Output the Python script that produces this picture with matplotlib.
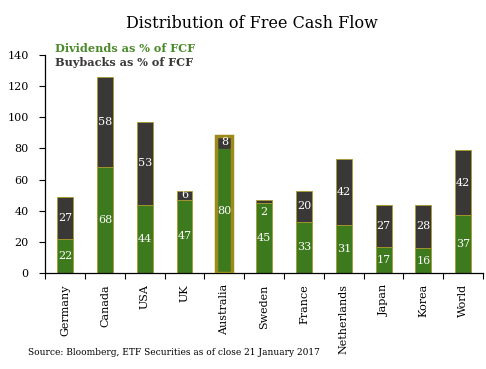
import matplotlib
matplotlib.use("Agg")
import matplotlib.pyplot as plt
import numpy as np

countries = ["Germany", "Canada", "USA", "UK", "Australia", "Sweden", "France",
             "Netherlands", "Japan", "Korea", "World"]
dividends = [22, 68, 44, 47, 80, 45, 33, 31, 17, 16, 37]
buybacks = [27, 58, 53, 6, 8, 2, 20, 42, 27, 28, 42]
yticks = [0, 20, 40, 60, 80, 100, 120, 140]

GREEN = "#3d7a1e"
DARK = "#3a3836"
EDGE = "#a89a2a"
HILITE = "#9c8a1a"

plt.rcParams['font.family'] = ['DejaVu Serif']

fig = plt.figure(figsize=(4.86, 3.69), dpi=100)
ax = fig.add_axes([0.093, 0.26, 0.901, 0.591])

x = np.arange(len(countries))
w = 0.4
for i in range(len(countries)):
    hl = countries[i] == "Australia"
    ax.bar(x[i], dividends[i], width=w, color=GREEN, edgecolor=EDGE, linewidth=0.6, zorder=2)
    ax.bar(x[i], buybacks[i], width=w, bottom=dividends[i], color=DARK, edgecolor=EDGE if not hl else DARK,
           linewidth=0.6, zorder=2)
    if hl:
        tot = dividends[i] + buybacks[i]
        ax.bar(x[i], tot, width=w, fill=False, edgecolor=HILITE, linewidth=2.5, zorder=3)
    ax.text(x[i], dividends[i] / 2, str(dividends[i]), color="white", ha="center", va="center",
            fontsize=8, zorder=4)
    if buybacks[i] >= 5:
        ypos = dividends[i] + buybacks[i] / 2
    else:
        ypos = dividends[i] - 6
    ax.text(x[i], ypos, str(buybacks[i]), color="white", ha="center",
            va="center", fontsize=8, zorder=4)

ax.set_xlim(-0.5, len(countries) - 0.5)
ax.set_ylim(0, 140)
ax.set_yticks(yticks)
ax.tick_params(axis='y', labelsize=8, length=4, width=0.8, direction='out', pad=8)
ax.set_xticks(np.arange(len(countries) + 1) - 0.5)
ax.set_xticklabels([])
ax.set_xticks(x, minor=True)
ax.set_xticklabels(countries, minor=True, rotation=90, fontsize=8)
ax.tick_params(axis='x', which='major', length=4, width=0.8, direction='out')
ax.tick_params(axis='x', which='minor', length=0, pad=8)
for s in ["top", "right"]:
    ax.spines[s].set_visible(False)
for s in ["left", "bottom"]:
    ax.spines[s].set_linewidth(0.9)

fig.text(0.518, 0.935, "Distribution of Free Cash Flow", ha="center", va="center", fontsize=11.5)
fig.text(0.113, 0.869, "Dividends as % of FCF", color="#4a8a2a", fontweight="bold",
         fontsize=8.1, ha="left", va="center")
fig.text(0.113, 0.830, "Buybacks as % of FCF", color=DARK, fontweight="bold",
         fontsize=8.1, ha="left", va="center")
fig.text(0.058, 0.046, "Source: Bloomberg, ETF Securities as of close 21 January 2017",
         fontsize=6.5, ha="left", va="center")

fig.savefig("out.png", dpi=100)
